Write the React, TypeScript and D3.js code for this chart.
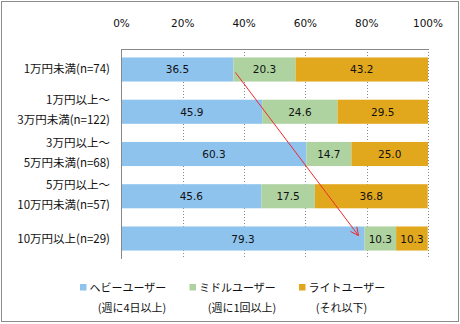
import React from "react";
import * as d3 from "d3";

const categories = [
  ["1万円未満(n=74)"],
  ["1万円以上～", "3万円未満(n=122)"],
  ["3万円以上～", "5万円未満(n=68)"],
  ["5万円以上～", "10万円未満(n=57)"],
  ["10万円以上(n=29)"],
];
const heavy = [36.5, 45.9, 60.3, 45.6, 79.3];
const middle = [20.3, 24.6, 14.7, 17.5, 10.3];
const light = [43.2, 29.5, 25.0, 36.8, 10.3];
const seriesNames = ["ヘビーユーザー", "ミドルユーザー", "ライトユーザー"];
const seriesSub = ["(週に4日以上)", "(週に1回以上)", "(それ以下)"];
const colors = ["#8EC3EE", "#AED3A0", "#E2A81D"];
const ticks = [0, 20, 40, 60, 80, 100];

const W = 460, H = 324;
const left = 121.5, right = 428, top = 49, bottom = 259;
const font = "'DejaVu Sans', 'Noto Sans CJK JP', sans-serif";
const jfont = "'Noto Sans CJK JP', sans-serif";

export default function App() {
  const x = d3.scaleLinear().domain([0, 100]).range([left, right]);
  const y = d3.scaleBand<number>().domain(d3.range(categories.length)).range([top, bottom]).paddingInner(0.43).paddingOuter(0.2);
  const series = [heavy, middle, light];
  const stack = categories.map((_, i) => {
    let acc = 0;
    return series.map((s) => {
      const v = s[i];
      const seg = { x0: acc, x1: acc + v, v };
      acc += v;
      return seg;
    });
  });
  const ax1 = x(heavy[0]) + 2, ay1 = y(0)! + y.bandwidth() * 0.62;
  const ax2 = x(heavy[4]) - 6, ay2 = y(4)! + y.bandwidth() * 0.38;
  const ang = Math.atan2(ay2 - ay1, ax2 - ax1);
  const hl = 9, hw = 0.45;
  const h1 = [ax2 - hl * Math.cos(ang - hw), ay2 - hl * Math.sin(ang - hw)];
  const h2 = [ax2 - hl * Math.cos(ang + hw), ay2 - hl * Math.sin(ang + hw)];
  const legendX = [80, 189.5, 299];
  const subX = [132, 242, 341.5];
  return (
    <svg width={W} height={H} style={{ position: "absolute", left: 0, top: 0 }}>
      <rect x={0} y={0} width={W} height={H} fill="#fff" />
      <rect x={1.5} y={1.5} width={457} height={320} fill="none" stroke="#8c8c8c" strokeWidth={1} />
      {ticks.map((t) => (
        <text key={t} x={x(t)} y={27} textAnchor="middle" fontSize={10.5} fontFamily={font} fill="#111">{t}%</text>
      ))}
      {ticks.slice(1).map((t) => (
        <line key={t} x1={Math.round(x(t)) + 0.5} x2={Math.round(x(t)) + 0.5} y1={top} y2={bottom} stroke="#888" strokeDasharray="1,2" />
      ))}
      {stack.map((segs, i) =>
        segs.map((s, j) => (
          <rect key={`${i}-${j}`} x={x(s.x0)} y={y(i)} width={x(s.x1) - x(s.x0)} height={y.bandwidth()} fill={colors[j]} />
        ))
      )}
      {stack.map((segs, i) =>
        segs.map((s, j) => (
          <text key={`t${i}-${j}`} x={(x(s.x0) + x(s.x1)) / 2} y={y(i)! + y.bandwidth() / 2 + 4} textAnchor="middle" fontSize={10.5} fontFamily={font} fill="#111">{s.v.toFixed(1)}</text>
        ))
      )}
      <line x1={left} x2={right} y1={top + 0.5} y2={top + 0.5} stroke="#888" />
      <line x1={left} x2={left} y1={top} y2={bottom} stroke="#888" />
      {categories.map((lines, i) => {
        const cy = y(i)! + y.bandwidth() / 2;
        return lines.map((l, k) => (
          <text key={`c${i}-${k}`} x={110} y={cy + 4 + (lines.length === 1 ? 0 : (k === 0 ? -11.5 : 8.5))} textAnchor="end" fontSize={11.5} fontFamily={jfont} fill="#111">{l}</text>
        ));
      })}
      <line x1={ax1} y1={ay1} x2={ax2} y2={ay2} stroke="#f0282d" strokeWidth={1} />
      <polyline points={`${h1[0]},${h1[1]} ${ax2},${ay2} ${h2[0]},${h2[1]}`} fill="none" stroke="#f0282d" strokeWidth={1} />
      {seriesNames.map((n, i) => (
        <g key={n}>
          <rect x={legendX[i]} y={284} width={6.5} height={6.5} fill={colors[i]} />
          <text x={legendX[i] + 9.5} y={291.5} fontSize={11} fontFamily={jfont} fill="#111">{n}</text>
          <text x={subX[i]} y={312} textAnchor="middle" fontSize={11} fontFamily={jfont} fill="#111">{seriesSub[i]}</text>
        </g>
      ))}
    </svg>
  );
}
